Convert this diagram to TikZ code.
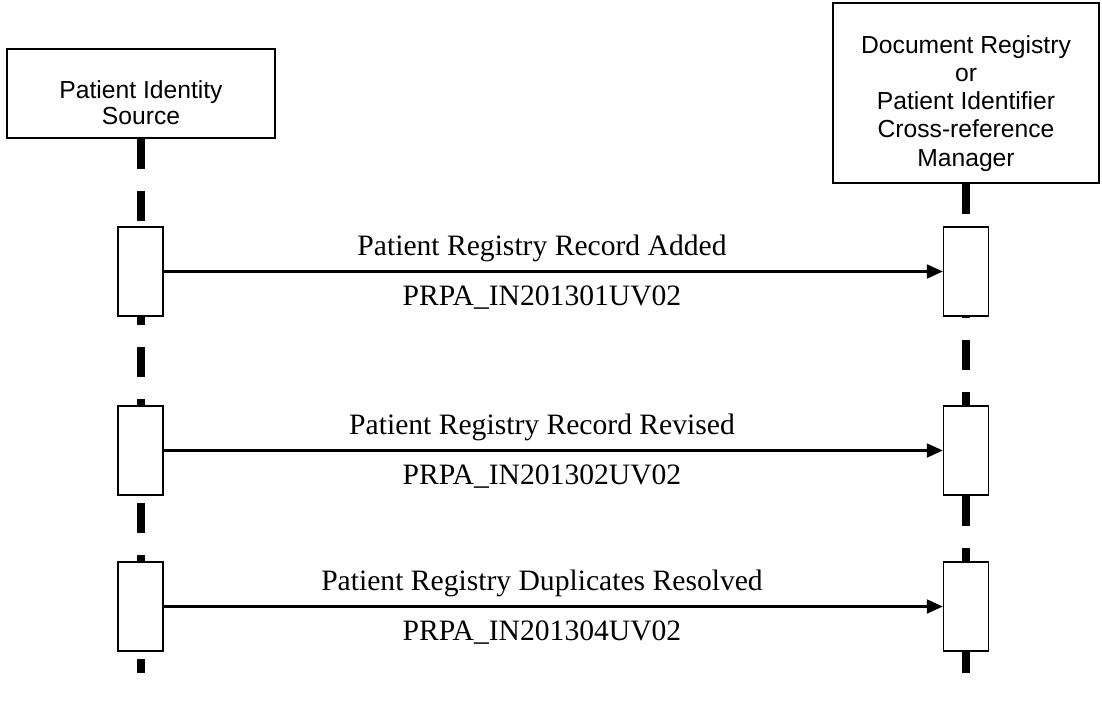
\documentclass[tikz,border=0pt]{standalone}
\usepackage{fontspec}
\setmainfont{Liberation Serif}
\newfontfamily\arialfont{Liberation Sans}
\usetikzlibrary{arrows.meta}
\begin{document}
\begin{tikzpicture}[x=0.75pt,y=-0.75pt,
  actor/.style={draw, line width=1.1pt, fill=white, inner sep=0},
  actortext/.style={font=\arialfont\fontsize{18.5}{21.2}\selectfont, align=center, inner sep=0, anchor=north},
  act/.style={draw, line width=1.1pt, fill=white, minimum width=33.75pt, minimum height=66.75pt, inner sep=0},
  lifeline/.style={line width=5.5pt, dash pattern=on 22.5pt off 16.5pt},
  msg/.style={line width=1.6pt, -{Triangle[length=12pt,width=10.5pt]}},
  msglabel/.style={font=\fontsize{22.2}{26}\selectfont, anchor=base, inner sep=0}]
\useasboundingbox (0,0) rectangle (1102,722);
% actors
\node[actor, minimum width=201pt, minimum height=66.75pt] (pis) at (141,93.5) {};
\node[actor, minimum width=199.5pt, minimum height=135pt] (reg) at (966,93) {};
\node[actortext, font=\arialfont\fontsize{18.5}{19.5}\selectfont] (pistext) at (141,80.5) {Patient Identity\\Source};
\node[actortext] (regtext) at (966,35) {Document Registry\\or\\Patient Identifier\\Cross-reference\\Manager};
% lifelines
\coordinate (pisEnd) at (141,673);
\coordinate (regEnd) at (966,673);
\draw[lifeline] (pis.south) -- (pisEnd);
\draw[lifeline] (reg.south) -- (regEnd);
% activations
\node[act] (a1) at (140.5,271.5) {};
\node[act] (a2) at (140.5,450.5) {};
\node[act] (a3) at (140.5,606.5) {};
\node[act] (b1) at (966,271.5) {};
\node[act] (b2) at (966,450.5) {};
\node[act] (b3) at (966,606.5) {};
% messages
\draw[msg] (a1.east) -- (b1.west);
\draw[msg] (a2.east) -- (b2.west);
\draw[msg] (a3.east) -- (b3.west);
\node[msglabel] (m1) at (542,255) {Patient Registry Record Added};
\node[msglabel] (c1) at (542,305) {PRPA\_IN201301UV02};
\node[msglabel] (m2) at (542,434) {Patient Registry Record Revised};
\node[msglabel] (c2) at (542,484) {PRPA\_IN201302UV02};
\node[msglabel] (m3) at (542,590) {Patient Registry Duplicates Resolved};
\node[msglabel] (c3) at (542,640) {PRPA\_IN201304UV02};
\end{tikzpicture}
\end{document}
